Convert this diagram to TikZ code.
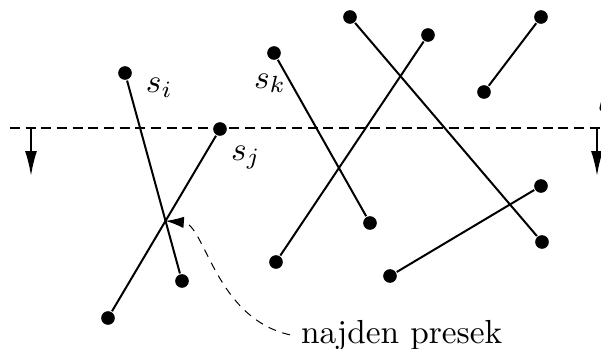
\documentclass[tikz,border=0pt]{standalone}
\usetikzlibrary{arrows.meta}
\tikzset{
  pt/.style={circle,fill,inner sep=0pt,minimum size=4.1pt},
  lbl/.style={anchor=base west,inner sep=0pt},
}
\begin{document}
\begin{tikzpicture}[x=0.3pt,y=-0.3pt,line width=0.6pt]
  \useasboundingbox (0,0) rectangle (601,349);
  % sweep line
  \coordinate (L) at (10,128);
  \coordinate (R) at (604,128);
  \draw[dash pattern=on 3pt off 1.7pt] (L) -- (R);
  \coordinate (L1) at (31,128);
  \coordinate (L2) at (31,176);
  \coordinate (R1) at (597,128);
  \coordinate (R2) at (597,176);
  \draw[-{Latex[length=7.5pt,width=3.6pt]}] (L1) -- (L2);
  \draw[-{Latex[length=7.5pt,width=3.6pt]}] (R1) -- (R2);
  \node[lbl] (l) at (597,112) {$l$};
  % segments
  \node[pt] (A) at (125,73) {};
  \node[pt] (B) at (182,281) {};
  \node[pt] (C) at (220,129) {};
  \node[pt] (D) at (108,318) {};
  \node[pt] (E) at (274,53) {};
  \node[pt] (F) at (370,223) {};
  \node[pt] (G) at (350,17) {};
  \node[pt] (H) at (542,242) {};
  \node[pt] (I) at (428,35) {};
  \node[pt] (J) at (276,262) {};
  \node[pt] (K) at (541,17) {};
  \node[pt] (M) at (484,92) {};
  \node[pt] (N) at (541,186) {};
  \node[pt] (O) at (390,276) {};
  \draw (A) -- (B);
  \draw (C) -- (D);
  \draw (E) -- (F);
  \draw (G) -- (H);
  \draw (I) -- (J);
  \draw (K) -- (M);
  \draw (N) -- (O);
  \node[lbl] (si) at (145,93) {$s_i$};
  \node[lbl] (sj) at (230,160) {$s_j$};
  \node[lbl] (sk) at (253,88) {$s_k$};
  % found intersection
  \coordinate (X) at (intersection of A--B and C--D);
  \node[anchor=base west,inner xsep=3pt,inner ysep=0pt] (T) at (290,343) {najden presek};
  \draw[line width=0.3pt,dash pattern=on 2.4pt off 2pt,-{Latex[length=5.5pt,width=3.4pt]}]
    (T.west) .. controls (215,318) and (205,224) .. (X);
\end{tikzpicture}
\end{document}
